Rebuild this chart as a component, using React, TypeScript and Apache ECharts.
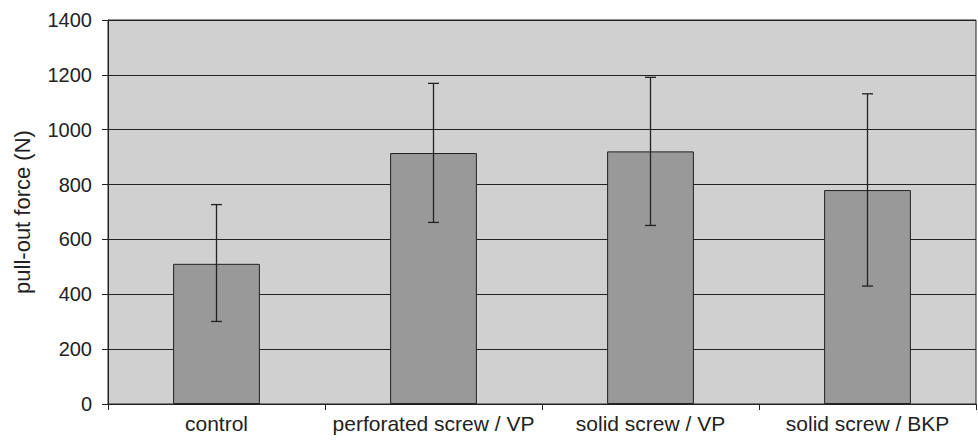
import React, { useEffect, useRef } from "react";
import * as echarts from "echarts";

const categories = ["control", "perforated screw / VP", "solid screw / VP", "solid screw / BKP"];
const meanForce = [511, 915, 921, 780];
const errLow = [301, 662, 651, 430];
const errHigh = [727, 1169, 1191, 1131];
const yTicks = { min: 0, max: 1400, interval: 200 };

export default function App() {
  const ref = useRef<HTMLDivElement>(null);
  useEffect(() => {
    if (!ref.current) return;
    const chart = echarts.init(ref.current, undefined, { renderer: "svg" });
    const font = "'Liberation Sans', Arial, sans-serif";
    const errData = categories.map((c, i) => [i, errLow[i], errHigh[i]]);
    chart.setOption({
      animation: false,
      backgroundColor: "#ffffff",
      grid: {
        left: 108,
        right: 2,
        top: 20,
        bottom: 40,
        show: true,
        backgroundColor: "#d0d0d0",
        borderColor: "#222",
        borderWidth: 1,
      },
      xAxis: {
        type: "category",
        data: categories,
        axisLine: { lineStyle: { color: "#222", width: 1 } },
        axisTick: { show: true, length: 6, lineStyle: { color: "#222" } },
        axisLabel: { color: "#222", fontSize: 21, fontFamily: font, margin: 9, interval: 0 },
      },
      yAxis: {
        type: "value",
        min: yTicks.min,
        max: yTicks.max,
        interval: yTicks.interval,
        name: "pull-out force (N)",
        nameLocation: "middle",
        nameGap: 75,
        nameTextStyle: { color: "#222", fontSize: 22, fontFamily: font },
        axisLine: { show: true, lineStyle: { color: "#222", width: 1 } },
        axisTick: { show: true, length: 6, lineStyle: { color: "#222" } },
        axisLabel: {
          color: "#222",
          fontSize: 20,
          fontFamily: font,
          margin: 16,
          formatter: (v: number) => String(v),
        },
        splitLine: { show: true, lineStyle: { color: "#222", width: 1 } },
      },
      series: [
        {
          type: "bar",
          data: meanForce,
          barWidth: "40%",
          itemStyle: { color: "#999999", borderColor: "#222", borderWidth: 1 },
        },
        {
          type: "custom",
          data: errData,
          z: 10,
          renderItem: (params: any, api: any) => {
            const x = api.value(0);
            const lo = api.coord([x, api.value(1)]);
            const hi = api.coord([x, api.value(2)]);
            const half = 5.5;
            const style = { stroke: "#222", lineWidth: 1.3 };
            return {
              type: "group",
              children: [
                { type: "line", shape: { x1: lo[0], y1: lo[1], x2: hi[0], y2: hi[1] }, style },
                { type: "line", shape: { x1: lo[0] - half, y1: lo[1], x2: lo[0] + half, y2: lo[1] }, style },
                { type: "line", shape: { x1: hi[0] - half, y1: hi[1], x2: hi[0] + half, y2: hi[1] }, style },
              ],
            };
          },
        },
      ],
    });
    return () => chart.dispose();
  }, []);
  return <div ref={ref} style={{ position: "fixed", left: 0, top: 0, width: 978, height: 444 }} />;
}
